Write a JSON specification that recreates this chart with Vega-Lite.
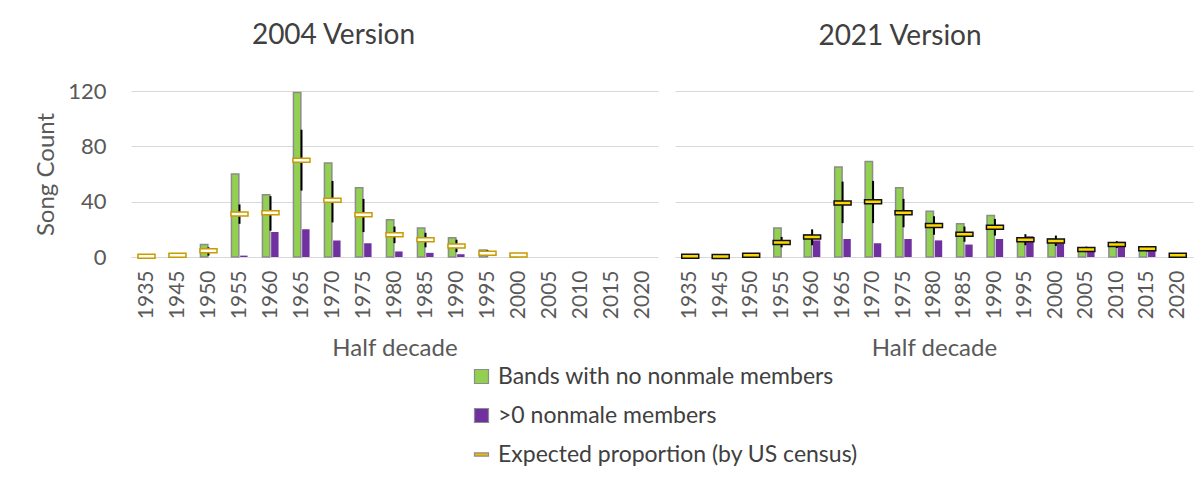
{
  "$schema": "https://vega.github.io/schema/vega-lite/v6.json",
  "padding": {"left": 34, "top": 22, "right": 5, "bottom": 5},
  "background": "white",
  "config": {"font": "Lato", "view": {"stroke": null}},
  "spacing": 17,
  "datasets": {
    "bars": [
      {"version": "2004", "half": "1935", "series": "Bands with no nonmale members", "count": 1},
      {"version": "2004", "half": "1945", "series": "Bands with no nonmale members", "count": 2},
      {"version": "2004", "half": "1950", "series": "Bands with no nonmale members", "count": 9},
      {"version": "2004", "half": "1955", "series": "Bands with no nonmale members", "count": 60},
      {"version": "2004", "half": "1955", "series": ">0 nonmale members", "count": 1},
      {"version": "2004", "half": "1960", "series": "Bands with no nonmale members", "count": 45},
      {"version": "2004", "half": "1960", "series": ">0 nonmale members", "count": 18},
      {"version": "2004", "half": "1965", "series": "Bands with no nonmale members", "count": 119},
      {"version": "2004", "half": "1965", "series": ">0 nonmale members", "count": 20},
      {"version": "2004", "half": "1970", "series": "Bands with no nonmale members", "count": 68},
      {"version": "2004", "half": "1970", "series": ">0 nonmale members", "count": 12},
      {"version": "2004", "half": "1975", "series": "Bands with no nonmale members", "count": 50},
      {"version": "2004", "half": "1975", "series": ">0 nonmale members", "count": 10},
      {"version": "2004", "half": "1980", "series": "Bands with no nonmale members", "count": 27},
      {"version": "2004", "half": "1980", "series": ">0 nonmale members", "count": 4},
      {"version": "2004", "half": "1985", "series": "Bands with no nonmale members", "count": 21},
      {"version": "2004", "half": "1985", "series": ">0 nonmale members", "count": 3},
      {"version": "2004", "half": "1990", "series": "Bands with no nonmale members", "count": 14},
      {"version": "2004", "half": "1990", "series": ">0 nonmale members", "count": 2},
      {"version": "2004", "half": "1995", "series": "Bands with no nonmale members", "count": 5},
      {"version": "2004", "half": "2000", "series": "Bands with no nonmale members", "count": 2},
      {"version": "2021", "half": "1935", "series": "Bands with no nonmale members", "count": 1},
      {"version": "2021", "half": "1945", "series": "Bands with no nonmale members", "count": 1},
      {"version": "2021", "half": "1950", "series": "Bands with no nonmale members", "count": 2},
      {"version": "2021", "half": "1955", "series": "Bands with no nonmale members", "count": 21},
      {"version": "2021", "half": "1960", "series": "Bands with no nonmale members", "count": 16},
      {"version": "2021", "half": "1960", "series": ">0 nonmale members", "count": 12},
      {"version": "2021", "half": "1965", "series": "Bands with no nonmale members", "count": 65},
      {"version": "2021", "half": "1965", "series": ">0 nonmale members", "count": 13},
      {"version": "2021", "half": "1970", "series": "Bands with no nonmale members", "count": 69},
      {"version": "2021", "half": "1970", "series": ">0 nonmale members", "count": 10},
      {"version": "2021", "half": "1975", "series": "Bands with no nonmale members", "count": 50},
      {"version": "2021", "half": "1975", "series": ">0 nonmale members", "count": 13},
      {"version": "2021", "half": "1980", "series": "Bands with no nonmale members", "count": 33},
      {"version": "2021", "half": "1980", "series": ">0 nonmale members", "count": 12},
      {"version": "2021", "half": "1985", "series": "Bands with no nonmale members", "count": 24},
      {"version": "2021", "half": "1985", "series": ">0 nonmale members", "count": 9},
      {"version": "2021", "half": "1990", "series": "Bands with no nonmale members", "count": 30},
      {"version": "2021", "half": "1990", "series": ">0 nonmale members", "count": 13},
      {"version": "2021", "half": "1995", "series": "Bands with no nonmale members", "count": 14},
      {"version": "2021", "half": "1995", "series": ">0 nonmale members", "count": 15},
      {"version": "2021", "half": "2000", "series": "Bands with no nonmale members", "count": 13},
      {"version": "2021", "half": "2000", "series": ">0 nonmale members", "count": 10},
      {"version": "2021", "half": "2005", "series": "Bands with no nonmale members", "count": 6},
      {"version": "2021", "half": "2005", "series": ">0 nonmale members", "count": 5},
      {"version": "2021", "half": "2010", "series": "Bands with no nonmale members", "count": 8},
      {"version": "2021", "half": "2010", "series": ">0 nonmale members", "count": 11},
      {"version": "2021", "half": "2015", "series": "Bands with no nonmale members", "count": 7},
      {"version": "2021", "half": "2015", "series": ">0 nonmale members", "count": 5},
      {"version": "2021", "half": "2020", "series": "Bands with no nonmale members", "count": 1}
    ],
    "exp": [
      {"version": "2004", "half": "1935", "expected": 0.5},
      {"version": "2004", "half": "1945", "expected": 1.2},
      {"version": "2004", "half": "1950", "expected": 4.5, "lo": 1, "hi": 7},
      {"version": "2004", "half": "1955", "expected": 31, "lo": 24, "hi": 38},
      {"version": "2004", "half": "1960", "expected": 32, "lo": 19, "hi": 44},
      {"version": "2004", "half": "1965", "expected": 70, "lo": 48, "hi": 92},
      {"version": "2004", "half": "1970", "expected": 41, "lo": 25, "hi": 55},
      {"version": "2004", "half": "1975", "expected": 30.5, "lo": 18, "hi": 42},
      {"version": "2004", "half": "1980", "expected": 16, "lo": 10, "hi": 22},
      {"version": "2004", "half": "1985", "expected": 12.5, "lo": 7, "hi": 17.5},
      {"version": "2004", "half": "1990", "expected": 8, "lo": 3.5, "hi": 12.5},
      {"version": "2004", "half": "1995", "expected": 2.7, "lo": 0.5, "hi": 5},
      {"version": "2004", "half": "2000", "expected": 1.4},
      {"version": "2021", "half": "1935", "expected": 0.5},
      {"version": "2021", "half": "1945", "expected": 0.3},
      {"version": "2021", "half": "1950", "expected": 1.2},
      {"version": "2021", "half": "1955", "expected": 10.4, "lo": 7, "hi": 14.5},
      {"version": "2021", "half": "1960", "expected": 14.4, "lo": 8.5, "hi": 20},
      {"version": "2021", "half": "1965", "expected": 39, "lo": 24.5, "hi": 54.5},
      {"version": "2021", "half": "1970", "expected": 40, "lo": 24.5, "hi": 55},
      {"version": "2021", "half": "1975", "expected": 32, "lo": 21.5, "hi": 42},
      {"version": "2021", "half": "1980", "expected": 22.8, "lo": 16, "hi": 29.5},
      {"version": "2021", "half": "1985", "expected": 16.5, "lo": 11, "hi": 22},
      {"version": "2021", "half": "1990", "expected": 21.5, "lo": 15.5, "hi": 27.5},
      {"version": "2021", "half": "1995", "expected": 12.5, "lo": 8.5, "hi": 16.5},
      {"version": "2021", "half": "2000", "expected": 11.5, "lo": 8, "hi": 15.5},
      {"version": "2021", "half": "2005", "expected": 5.5, "lo": 3.5, "hi": 7.5},
      {"version": "2021", "half": "2010", "expected": 9, "lo": 6.5, "hi": 11.5},
      {"version": "2021", "half": "2015", "expected": 6, "lo": 4, "hi": 8},
      {"version": "2021", "half": "2020", "expected": 1.2}
    ]
  },
  "hconcat": [
    {
      "width": 527,
      "height": 166,
      "title": {"text": "2004 Version", "fontSize": 28, "fontWeight": "normal", "color": "#404040", "offset": 30, "frame": "group", "anchor": "middle", "dx": -61},
      "layer": [
        {
          "data": {"name": "bars"},
          "transform": [{"filter": "datum.version == '2004'"}],
          "mark": {"type": "bar", "stroke": "#8c8c8c"},
          "encoding": {
            "x": {"field": "half", "type": "ordinal",
              "scale": {"domain": ["1935","1945","1950","1955","1960","1965","1970","1975","1980","1985","1990","1995","2000","2005","2010","2015","2020"], "paddingInner": 0.48, "paddingOuter": 0.24},
              "axis": {"title": "Half decade", "labelAngle": -90, "labelFontSize": 21, "labelColor": "#595959", "titleFontSize": 24, "titleColor": "#595959", "titleFontWeight": "normal", "ticks": false, "domainColor": "#d9d9d9", "labelPadding": 13, "titlePadding": 18}},
            "xOffset": {"field": "series", "scale": {"domain": ["Bands with no nonmale members", ">0 nonmale members"], "paddingInner": 0.15}},
            "y": {"field": "count", "type": "quantitative", "title": "Song Count",
              "scale": {"domain": [0, 120], "nice": false},
              "axis": {"values": [0, 40, 80, 120], "titleFontSize": 24, "titleColor": "#595959", "titleFontWeight": "normal", "labelFontSize": 22, "labelColor": "#595959", "domain": false, "ticks": false, "gridColor": "#d9d9d9", "labelPadding": 25, "titlePadding": 9}},
            "color": {"field": "series", "type": "nominal",
              "scale": {"domain": ["Bands with no nonmale members", ">0 nonmale members", "Expected proportion (by US census)"], "range": ["#92d050", "#7030a0", "#f2b705"]},
              "legend": {"orient": "none", "legendX": 339, "legendY": 274, "direction": "vertical", "title": null, "labelFontSize": 23, "labelColor": "#404040", "symbolSize": 196, "rowPadding": 15, "labelLimit": 600, "labelOffset": 5, "symbolStrokeWidth": 1.2,
                "symbolType": {"expr": "datum.value === 'Expected proportion (by US census)' ? 'M-1,-0.22H1V0.22H-1Z' : 'square'"},
                "encode": {"symbols": {
                  "stroke": {"condition": [{"test": "datum.value === 'Bands with no nonmale members'", "value": "#8c8c8c"}, {"test": "datum.value === 'Expected proportion (by US census)'", "value": "#3a3a3a"}], "value": "#7030a0"},
                  "strokeWidth": {"value": 1.2}
                }}}},
            "strokeWidth": {"condition": {"test": "datum.series == 'Bands with no nonmale members'", "value": 1.5}, "value": 0}
          }
        },
        {
          "data": {"name": "exp"},
          "transform": [{"filter": "datum.version == '2004' && isValid(datum.lo)"}],
          "mark": {"type": "rule", "color": "#000000", "strokeWidth": 2},
          "encoding": {
            "x": {"field": "half", "type": "ordinal"},
            "y": {"field": "lo", "type": "quantitative", "title": "Song Count"},
            "y2": {"field": "hi"}
          }
        },
        {
          "data": {"name": "exp"},
          "transform": [{"filter": "datum.version == '2004'"}],
          "mark": {"type": "tick", "orient": "horizontal", "size": 17, "thickness": 4, "filled": true, "fill": "#fffdf5", "stroke": "#c89b00", "strokeWidth": 1.5, "opacity": 1},
          "encoding": {
            "x": {"field": "half", "type": "ordinal"},
            "y": {"field": "expected", "type": "quantitative", "title": "Song Count"}
          }
        }
      ]
    },
    {
      "width": 518,
      "height": 166,
      "title": {"text": "2021 Version", "fontSize": 28, "fontWeight": "normal", "color": "#404040", "offset": 40, "frame": "group", "anchor": "middle", "dx": -34},
      "layer": [
        {
          "data": {"name": "bars"},
          "transform": [{"filter": "datum.version == '2021'"}],
          "mark": {"type": "bar", "stroke": "#8c8c8c"},
          "encoding": {
            "x": {"field": "half", "type": "ordinal",
              "scale": {"domain": ["1935","1945","1950","1955","1960","1965","1970","1975","1980","1985","1990","1995","2000","2005","2010","2015","2020"], "paddingInner": 0.48, "paddingOuter": 0.24},
              "axis": {"title": "Half decade", "labelAngle": -90, "labelFontSize": 21, "labelColor": "#595959", "titleFontSize": 24, "titleColor": "#595959", "titleFontWeight": "normal", "ticks": false, "domainColor": "#d9d9d9", "labelPadding": 13, "titlePadding": 18}},
            "xOffset": {"field": "series", "scale": {"domain": ["Bands with no nonmale members", ">0 nonmale members"], "paddingInner": 0.15}},
            "y": {"field": "count", "type": "quantitative", "title": null,
              "scale": {"domain": [0, 120], "nice": false},
              "axis": {"values": [0, 40, 80, 120], "labels": false, "domain": false, "ticks": false, "gridColor": "#d9d9d9"}},
            "color": {"field": "series", "type": "nominal",
              "scale": {"domain": ["Bands with no nonmale members", ">0 nonmale members", "Expected proportion (by US census)"], "range": ["#92d050", "#7030a0", "#f2b705"]},
              "legend": null},
            "strokeWidth": {"condition": {"test": "datum.series == 'Bands with no nonmale members'", "value": 1.5}, "value": 0}
          }
        },
        {
          "data": {"name": "exp"},
          "transform": [{"filter": "datum.version == '2021' && isValid(datum.lo)"}],
          "mark": {"type": "rule", "color": "#000000", "strokeWidth": 2},
          "encoding": {
            "x": {"field": "half", "type": "ordinal"},
            "y": {"field": "lo", "type": "quantitative", "title": null},
            "y2": {"field": "hi"}
          }
        },
        {
          "data": {"name": "exp"},
          "transform": [{"filter": "datum.version == '2021'"}],
          "mark": {"type": "tick", "orient": "horizontal", "size": 17, "thickness": 4, "filled": true, "fill": "#ffd700", "stroke": "#111111", "strokeWidth": 1.5, "opacity": 1},
          "encoding": {
            "x": {"field": "half", "type": "ordinal"},
            "y": {"field": "expected", "type": "quantitative", "title": null}
          }
        }
      ]
    }
  ]
}
